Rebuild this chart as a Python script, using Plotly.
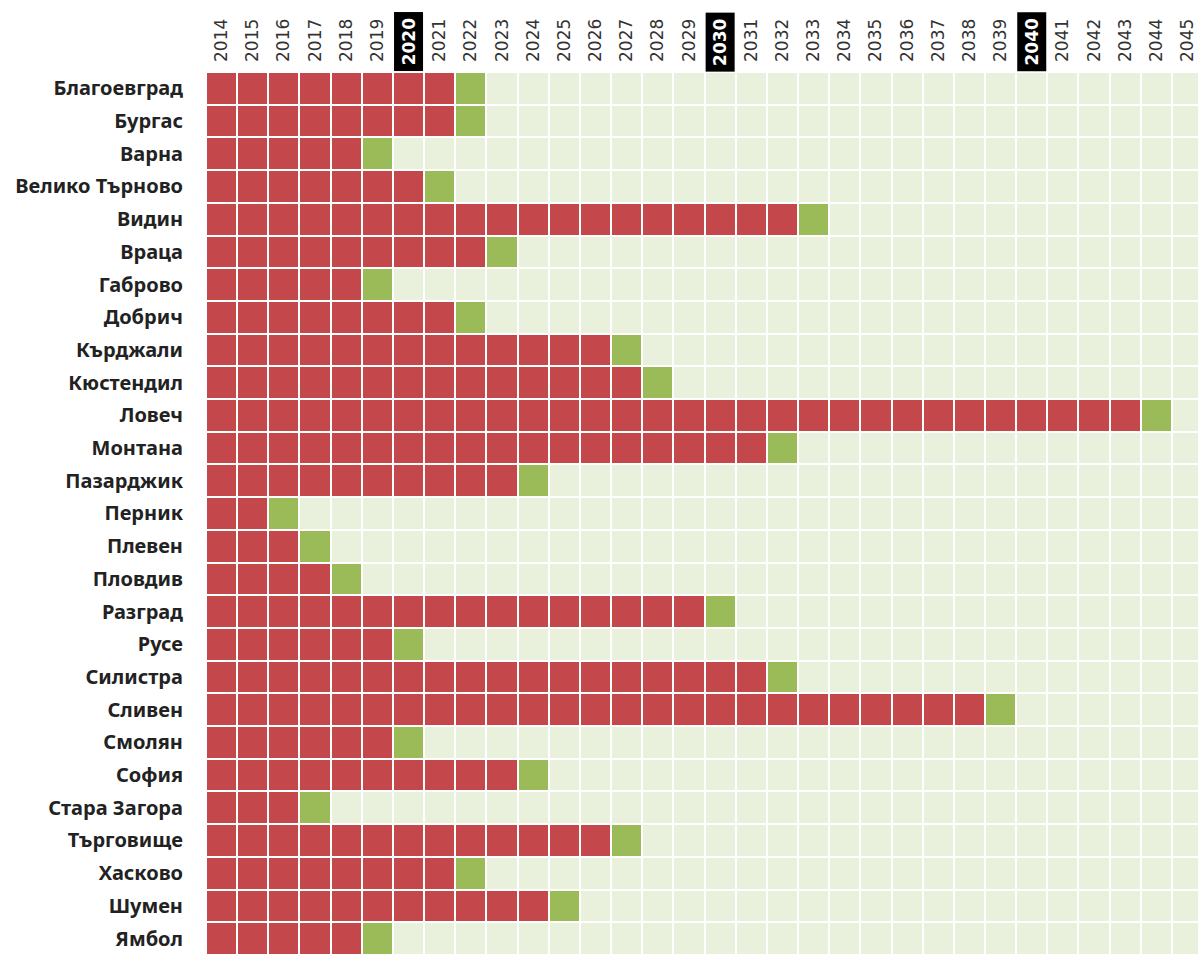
import plotly.graph_objects as go

regions = ["Благоевград", "Бургас", "Варна", "Велико Търново", "Видин", "Враца",
           "Габрово", "Добрич", "Кърджали", "Кюстендил", "Ловеч", "Монтана",
           "Пазарджик", "Перник", "Плевен", "Пловдив", "Разград", "Русе",
           "Силистра", "Сливен", "Смолян", "София", "Стара Загора", "Търговище",
           "Хасково", "Шумен", "Ямбол"]
final_year = [2022, 2022, 2019, 2021, 2033, 2023,
              2019, 2022, 2027, 2028, 2044, 2032,
              2024, 2016, 2017, 2018, 2030, 2020,
              2032, 2039, 2020, 2024, 2017, 2027,
              2022, 2025, 2019]
years = list(range(2014, 2046))
highlight_years = [2020, 2030, 2040]

RED = "#c4474c"
GREEN = "#9bbb59"
BG = "#e9f0dc"

z = []
for fy in final_year:
    row = []
    for yr in years:
        if yr < fy:
            row.append(1)
        elif yr == fy:
            row.append(2)
        else:
            row.append(0)
    z.append(row)

fig = go.Figure(go.Heatmap(
    z=z,
    x=list(range(len(years))),
    y=list(range(len(regions))),
    zmin=0, zmax=2,
    colorscale=[[0, BG], [0.333, BG], [0.333, RED], [0.667, RED], [0.667, GREEN], [1, GREEN]],
    showscale=False,
    xgap=2, ygap=2,
    hoverinfo="skip",
))

W, H = 1198, 955
left, top = 206, 72
colw, rowh = 31.16, 32.7
plot_w = W - left
plot_h = H - top

fig.update_layout(
    width=W, height=H,
    margin=dict(l=left, r=0, t=top, b=0, pad=0, autoexpand=False),
    paper_bgcolor="white",
    plot_bgcolor="white",
    xaxis=dict(
        side="top",
        tickmode="array",
        tickvals=list(range(len(years))),
        ticktext=["" if y in highlight_years else str(y) for y in years],
        tickangle=-90,
        tickfont=dict(family="DejaVu Sans", size=17, color="#333333"),
        range=[-0.5, -0.5 + plot_w / colw],
        showgrid=False, zeroline=False, showline=False,
        ticks="", ticklabelstandoff=9,
        ticklabeloverflow="allow",
        automargin=False,
        fixedrange=True,
    ),
    yaxis=dict(
        tickmode="array",
        tickvals=list(range(len(regions))),
        ticktext=regions,
        tickfont=dict(family="Noto Sans", size=20, color="#222222", weight="bold"),
        range=[-0.5 + plot_h / rowh, -0.5],
        showgrid=False, zeroline=False, showline=False,
        ticks="", ticklabelstandoff=22,
        ticklabeloverflow="allow",
        automargin=False,
        fixedrange=True,
    ),
)

# highlighted decade labels with black background
box_top, box_bottom = 13, 71
ycenter = 1 + (top - (box_top + box_bottom) / 2) / plot_h
for hy in highlight_years:
    fig.add_annotation(
        x=years.index(hy), xref="x",
        y=ycenter, yref="paper",
        text=str(hy), textangle=-90,
        showarrow=False,
        font=dict(family="DejaVu Sans", size=17, color="white", weight="bold"),
        bgcolor="black",
        width=box_bottom - box_top, height=colw - 3,
        xanchor="center", yanchor="middle",
        borderpad=0,
    )

fig.write_html(
    "out.html",
    config={"displayModeBar": False},
    post_script="document.body.style.margin='0';document.body.style.overflow='hidden';",
)
